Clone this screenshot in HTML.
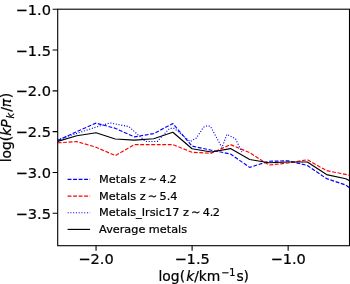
<!DOCTYPE html>
<html><head><meta charset="utf-8"><style>
html,body{margin:0;padding:0;background:#fff;}
svg{display:block;font-family:"DejaVu Sans","Liberation Sans",sans-serif;}
text{stroke:#000;stroke-width:0.22px;}
</style></head><body>
<svg width="350" height="284" viewBox="0 0 350 284">
<defs><clipPath id="c"><rect x="57.7" y="9.2" width="291.8" height="236.5"/></clipPath></defs>
<g clip-path="url(#c)" fill="none" stroke-linejoin="round">
<polyline points="57.60,140.60 76.81,131.60 96.02,123.10 115.23,128.30 134.44,136.90 153.65,133.60 172.86,123.60 192.07,146.10 211.28,150.20 230.49,154.00 249.70,167.40 268.91,161.30 288.12,160.80 307.33,165.50 326.54,178.60 345.75,185.00 351.00,189.00" stroke="#0000ff" stroke-width="1.15" stroke-dasharray="3.85 1.66"/>
<polyline points="57.60,142.80 76.81,141.60 96.02,147.20 115.23,155.60 134.44,144.60 153.65,144.60 172.86,144.60 192.07,152.30 211.28,153.30 230.49,144.60 249.70,152.70 268.91,165.00 288.12,163.00 307.33,159.70 326.54,170.60 345.75,174.40 351.00,175.60" stroke="#ff0000" stroke-width="1.15" stroke-dasharray="3.85 1.66"/>
<polyline points="57.60,139.70 76.80,133.40 96.00,127.10 110.00,122.90 128.80,126.60 145.60,141.50 157.30,141.50 169.60,128.30 174.00,128.30 190.20,141.50 196.40,138.00 203.50,127.20 207.50,125.60 210.50,126.40 222.00,147.60 226.90,134.30 235.60,138.80 241.80,152.00" stroke="#0000ff" stroke-width="1.15" stroke-dasharray="1.05 1.72"/>
<polyline points="57.60,141.40 76.81,135.70 96.02,132.80 115.23,139.00 134.44,140.10 153.65,138.70 172.86,132.30 192.07,148.80 211.28,152.00 230.49,148.60 249.70,159.50 268.91,162.70 288.12,162.00 307.33,162.00 326.54,174.60 345.75,178.80 351.00,181.40" stroke="#000000" stroke-width="1.15"/>
</g>
<rect x="57.7" y="9.2" width="291.8" height="236.5" fill="none" stroke="#000" stroke-width="1.1"/>
<path d="M52.60 9.20H57.70M52.60 50.02H57.70M52.60 90.84H57.70M52.60 131.66H57.70M52.60 172.48H57.70M52.60 213.30H57.70M96.05 245.70V250.80M192.10 245.70V250.80M288.15 245.70V250.80" stroke="#000" stroke-width="1.1" fill="none"/>
<text x="51.0" y="14.80" text-anchor="end" font-size="14.60">−1.0</text>
<text x="51.0" y="55.62" text-anchor="end" font-size="14.60">−1.5</text>
<text x="51.0" y="96.44" text-anchor="end" font-size="14.60">−2.0</text>
<text x="51.0" y="137.26" text-anchor="end" font-size="14.60">−2.5</text>
<text x="51.0" y="178.08" text-anchor="end" font-size="14.60">−3.0</text>
<text x="51.0" y="218.90" text-anchor="end" font-size="14.60">−3.5</text>
<text x="96.05" y="263.5" text-anchor="middle" font-size="14.60">−2.0</text>
<text x="192.10" y="263.5" text-anchor="middle" font-size="14.60">−1.5</text>
<text x="288.15" y="263.5" text-anchor="middle" font-size="14.60">−1.0</text>
<text transform="translate(158.5,280.5)"><tspan x="0.00 3.86 12.36 21.17" y="0.00" font-size="13.89">log(</tspan><tspan x="27.69" y="0.00" font-size="13.89" font-style="italic">k</tspan><tspan x="35.63 40.31 48.16" y="0.00" font-size="13.89">/km</tspan><tspan x="62.72 70.87" y="-4.32" font-size="9.72">−1</tspan><tspan x="77.93 84.97" y="0.00" font-size="13.89">s)</tspan></text>
<text transform="translate(10.7,162.3) rotate(-90)"><tspan x="0.00 3.86 12.36 21.17" y="0.00" font-size="13.89">log(</tspan><tspan x="26.59 34.63" y="0.00" font-size="13.89" font-style="italic">kP</tspan><tspan x="43.81" y="3.08" font-size="9.72" font-style="italic">k</tspan><tspan x="50.62" y="0.00" font-size="13.89">/</tspan><tspan x="55.00" y="0.00" font-size="13.89" font-style="italic">π</tspan><tspan x="64.16" y="0.00" font-size="13.89">)</tspan></text>
<line x1="67.6" y1="179.40" x2="90.1" y2="179.40" stroke="#0000ff" stroke-width="1.15" stroke-dasharray="3.85 1.66"/>
<text transform="translate(99.1,183.00)"><tspan x="0.00 9.74 16.68 21.10 28.02 31.15 37.03 40.62 48.74 60.40 67.58 70.47" y="0.00" font-size="11.25">Metals z∼4.2</tspan></text>
<line x1="67.6" y1="196.07" x2="90.1" y2="196.07" stroke="#ff0000" stroke-width="1.15" stroke-dasharray="3.85 1.66"/>
<text transform="translate(99.1,199.67)"><tspan x="0.00 9.74 16.68 21.10 28.02 31.15 37.03 40.62 48.74 60.40 67.58 71.16" y="0.00" font-size="11.25">Metals z∼5.4</tspan></text>
<line x1="67.6" y1="212.74" x2="90.1" y2="212.74" stroke="#0000ff" stroke-width="1.15" stroke-dasharray="1.05 1.72"/>
<text transform="translate(99.1,216.34)"><tspan x="0.00 9.74 16.68 21.10 28.02 31.15 37.03 42.68 46.00 50.64 56.52 59.66 65.86 73.04 80.22 83.81 91.93 103.58 110.76 113.66" y="0.00" font-size="11.25">Metals_Irsic17 z∼4.2</tspan></text>
<line x1="67.6" y1="229.41" x2="90.1" y2="229.41" stroke="#000" stroke-width="1.15"/>
<text transform="translate(99.1,233.01)"><tspan x="0" y="0" font-size="11.25">Average metals</tspan></text>
</svg>
</body></html>
